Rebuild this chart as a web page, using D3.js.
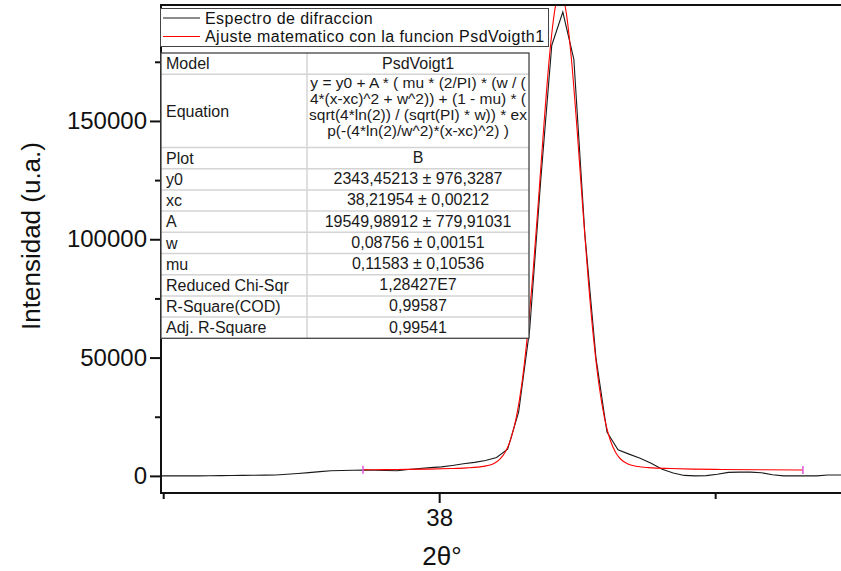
<!DOCTYPE html>
<html>
<head>
<meta charset="utf-8">
<script src="https://cdn.jsdelivr.net/npm/d3@7"></script>
<style>
  body { margin: 0; background: #fff; }
  svg { display: block; font-family: "Liberation Sans", Arial, sans-serif; }
</style>
</head>
<body>
<svg id="chart" width="841" height="571"></svg>
<script>
// measured diffraction data (2theta, intensity)
const dataX = [37.484, 37.504, 37.524, 37.544, 37.564, 37.584, 37.604, 37.624, 37.644, 37.664,
  37.684, 37.704, 37.724, 37.744, 37.764, 37.784, 37.804, 37.824, 37.844, 37.864,
  37.884, 37.904, 37.924, 37.944, 37.964, 37.984, 38.004, 38.024, 38.044, 38.064,
  38.084, 38.104, 38.124, 38.144, 38.164, 38.184, 38.204, 38.224, 38.244, 38.264,
  38.284, 38.304, 38.324, 38.344, 38.364, 38.384, 38.404, 38.424, 38.444, 38.464,
  38.484, 38.504, 38.524, 38.544, 38.564, 38.584, 38.604, 38.624, 38.644, 38.664,
  38.684, 38.704, 38.724, 38.744];
const dataY = [0, 0, 0, 0, 0, 50, 100, 150, 200, 250,
  330, 400, 700, 1000, 1400, 1800, 2200, 2300, 2400, 2500,
  2400, 2300, 2200, 2700, 3100, 3500, 3800, 4400, 5100, 5700,
  6500, 7800, 11300, 27000, 62000, 125000, 182000, 196000, 176000, 102000,
  50000, 18500, 11000, 9200, 7500, 5300, 2800, 1200, 200, 0,
  100, 700, 1500, 1600, 1600, 1300, 500, 0, 0, 0,
  0, 350, 400, 400];

// PsdVoigt1 fit curve
const fitX = [37.862, 37.90, 37.94, 37.98, 38.02, 38.05, 38.07, 38.09, 38.10, 38.11,
  38.12, 38.13, 38.14, 38.15, 38.16, 38.17, 38.18, 38.19, 38.20, 38.21,
  38.22, 38.23, 38.24, 38.25, 38.26, 38.27, 38.28, 38.29, 38.30, 38.31,
  38.32, 38.33, 38.34, 38.36, 38.38, 38.42, 38.46, 38.50, 38.58, 38.659];
const fitY = [2590, 2645, 2740, 2877, 3100, 3374, 3700, 4460, 5350, 7040,
  10185, 15760, 25040, 39350, 59680, 86030, 116900, 149050, 177720, 197570,
  204250, 196100, 175150, 145900, 113700, 83150, 57360, 37670, 23900, 15060,
  9780, 6820, 5235, 3950, 3480, 3096, 2870, 2736, 2583, 2504];

const yMajor = [0, 50000, 100000, 150000];
const yMinor = [25000, 75000, 125000, 175000];
const xMajor = [38];
const xMinor = [37.5, 38.5];

const legendLabels = ["Espectro de difraccion", "Ajuste matematico con la funcion PsdVoigth1"];
const legendColors = ["#1a1a1a", "#ff0000"];

const tableLabels = ["Model", "Equation", "Plot", "y0", "xc", "A", "w", "mu",
  "Reduced Chi-Sqr", "R-Square(COD)", "Adj. R-Square"];
const tableValues = ["PsdVoigt1", null, "B", "2343,45213 \u00b1 976,3287", "38,21954 \u00b1 0,00212",
  "19549,98912 \u00b1 779,91031", "0,08756 \u00b1 0,00151", "0,11583 \u00b1 0,10536",
  "1,28427E7", "0,99587", "0,99541"];
const equationLines = ["y = y0 + A * ( mu * (2/PI) * (w / (",
  "4*(x-xc)^2 + w^2)) + (1 - mu) * (",
  "sqrt(4*ln(2)) / (sqrt(PI) * w)) * ex",
  "p(-(4*ln(2)/w^2)*(x-xc)^2) )"];

const svg = d3.select("#chart");
const pLeft = 161, pRight = 841, pTop = 5, pBottom = 493;

const x = d3.scaleLinear().domain([37.496, 38.728]).range([pLeft, pRight]);
const y = d3.scaleLinear().domain([-7230, 199000]).range([pBottom, pTop]);

svg.append("defs").append("clipPath").attr("id", "plotclip")
  .append("rect").attr("x", pLeft).attr("y", pTop)
  .attr("width", pRight - pLeft).attr("height", pBottom - pTop);

const plot = svg.append("g").attr("clip-path", "url(#plotclip)");

const line = d3.line().x(d => x(d[0])).y(d => y(d[1]));

plot.append("path")
  .datum(d3.zip(dataX, dataY))
  .attr("fill", "none")
  .attr("stroke", legendColors[0])
  .attr("stroke-width", 1.1)
  .attr("d", line);

plot.append("path")
  .datum(d3.zip(fitX, fitY))
  .attr("fill", "none")
  .attr("stroke", legendColors[1])
  .attr("stroke-width", 1.1)
  .attr("d", line.curve(d3.curveMonotoneX));

// fit range markers
const ends = [[fitX[0], fitY[0]], [fitX[fitX.length - 1], fitY[fitY.length - 1]]];
plot.selectAll("line.marker").data(ends).enter().append("line")
  .attr("x1", d => x(d[0])).attr("x2", d => x(d[0]))
  .attr("y1", d => y(d[1]) - 4).attr("y2", d => y(d[1]) + 4)
  .attr("stroke", "#e055e0").attr("stroke-width", 1.5);

// axes
const axisFont = 24;
svg.append("g").attr("transform", `translate(${pLeft},0)`)
  .call(d3.axisLeft(y).tickValues(yMajor).tickSize(11).tickSizeOuter(0).tickPadding(3).tickFormat(d3.format("d")));
svg.append("g").attr("transform", `translate(${pLeft},0)`)
  .call(d3.axisLeft(y).tickValues(yMinor).tickSize(6).tickSizeOuter(0).tickFormat(""));
svg.append("g").attr("transform", `translate(0,${pBottom})`)
  .call(d3.axisBottom(x).tickValues(xMajor).tickSize(10).tickSizeOuter(0).tickPadding(6).tickFormat(d3.format("d")));
svg.append("g").attr("transform", `translate(0,${pBottom})`)
  .call(d3.axisBottom(x).tickValues(xMinor).tickSize(6).tickSizeOuter(0).tickFormat(""));

svg.selectAll(".domain").remove();
svg.selectAll(".tick line").attr("stroke", "#111").attr("stroke-width", 2);
svg.selectAll(".tick text").attr("font-size", axisFont).attr("fill", "#111")
  .attr("font-family", "'Liberation Sans', Arial, sans-serif");

// frame lines
svg.append("line").attr("x1", pLeft).attr("x2", pLeft).attr("y1", pTop).attr("y2", pBottom + 1)
  .attr("stroke", "#111").attr("stroke-width", 2);
svg.append("line").attr("x1", pLeft - 1).attr("x2", pRight).attr("y1", pBottom).attr("y2", pBottom)
  .attr("stroke", "#111").attr("stroke-width", 2);
svg.append("line").attr("x1", pLeft - 1).attr("x2", pRight).attr("y1", pTop).attr("y2", pTop)
  .attr("stroke", "#111").attr("stroke-width", 2);

// axis titles
svg.append("text")
  .attr("transform", "translate(40,236) rotate(-90)")
  .attr("text-anchor", "middle")
  .attr("font-size", 26).attr("fill", "#111")
  .text("Intensidad (u.a.)");
svg.append("text")
  .attr("x", 442).attr("y", 565)
  .attr("text-anchor", "middle")
  .attr("font-size", 26).attr("fill", "#111")
  .text("2\u03b8\u00b0");

// legend
const lg = svg.append("g");
lg.append("rect").attr("x", 160.5).attr("y", 8.5).attr("width", 388).attr("height", 38)
  .attr("fill", "#fff").attr("stroke", "#444").attr("stroke-width", 1);
legendLabels.forEach((t, i) => {
  const cy = 18 + i * 18.5;
  lg.append("line").attr("x1", 163).attr("x2", 200).attr("y1", cy).attr("y2", cy)
    .attr("stroke", legendColors[i]).attr("stroke-width", 1);
  lg.append("text").attr("x", 205).attr("y", cy + 5.7)
    .attr("font-size", 16).attr("letter-spacing", 0.45).attr("fill", "#111").text(t);
});

// fit results table
const tb = svg.append("g");
const tLeft = 161, tRight = 529, tDiv = 307, tTop = 53;
const rowH = 21.2, eqH = 73.3;
const rowHeights = tableLabels.map((d, i) => i === 1 ? eqH : rowH);
const rowTops = [];
rowHeights.reduce((acc, h) => { rowTops.push(acc); return acc + h; }, tTop);
const tBottom = rowTops[rowTops.length - 1] + rowH;

tb.append("rect").attr("x", tLeft).attr("y", tTop).attr("width", tRight - tLeft)
  .attr("height", tBottom - tTop).attr("fill", "#fff");
rowTops.slice(1).forEach(yy => {
  tb.append("line").attr("x1", tLeft).attr("x2", tRight).attr("y1", yy).attr("y2", yy)
    .attr("stroke", "#d4d4d4").attr("stroke-width", 1.5);
});
tb.append("line").attr("x1", tDiv).attr("x2", tDiv).attr("y1", tTop).attr("y2", tBottom)
  .attr("stroke", "#d4d4d4").attr("stroke-width", 1.5);
tb.append("rect").attr("x", tLeft).attr("y", tTop).attr("width", tRight - tLeft)
  .attr("height", tBottom - tTop).attr("fill", "none").attr("stroke", "#444").attr("stroke-width", 1.3);

tableLabels.forEach((lab, i) => {
  const cy = rowTops[i] + rowHeights[i] / 2;
  tb.append("text").attr("x", 166).attr("y", cy + 5.7)
    .attr("font-size", 16).attr("fill", "#1a1a1a").text(lab);
  if (tableValues[i] !== null) {
    tb.append("text").attr("x", (tDiv + tRight) / 2).attr("y", rowTops[i] + 15.5)
      .attr("text-anchor", "middle").attr("font-size", 16).attr("fill", "#1a1a1a")
      .text(tableValues[i]);
  }
});
equationLines.forEach((t, j) => {
  tb.append("text").attr("x", (tDiv + tRight) / 2).attr("y", rowTops[1] + 14 + j * 16)
    .attr("text-anchor", "middle").attr("font-size", 15.5).attr("fill", "#1a1a1a").text(t);
});
</script>
</body>
</html>
